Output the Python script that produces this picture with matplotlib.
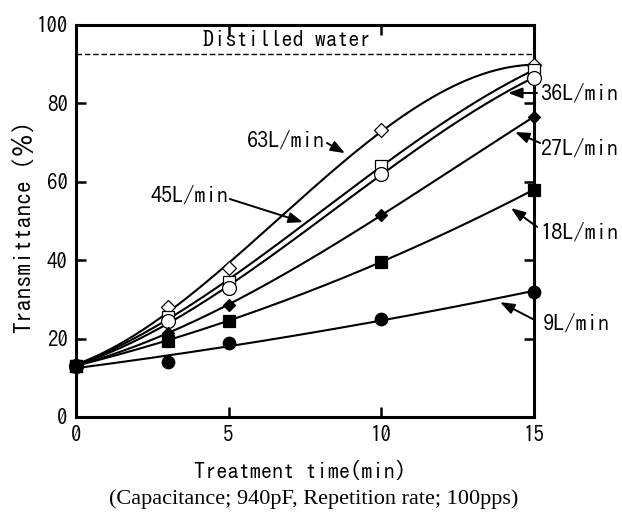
import matplotlib
matplotlib.use('Agg')
import matplotlib.pyplot as plt
import numpy as np

# data
t = np.array([0, 3, 5, 10, 15])
flow_labels = ['63L/min', '45L/min', '36L/min', '27L/min', '18L/min', '9L/min']
tr_63 = [13.1, 28.0, 37.9, 73.2, 89.8]
tr_45 = [13.1, 25.5, 34.5, 64.1, 88.5]
tr_36 = [13.1, 24.5, 32.8, 62.0, 86.6]
tr_27 = [13.1, 21.5, 28.6, 51.5, 76.6]
tr_18 = [13.1, 19.5, 24.6, 39.6, 58.0]
tr_9 = [13.1, 14.1, 18.8, 25.0, 32.0]
distilled = 92.6

series = [tr_63, tr_45, tr_36, tr_27, tr_18, tr_9]
# (marker, size, facecolor)
styles = [('D', 7, 'white'), ('s', 9, 'white'), ('o', 10, 'white'),
          ('D', 6, 'black'), ('s', 9, 'black'), ('o', 9, 'black')]
fit_deg = [3, 3, 3, 3, 2, 2]

plt.rcParams['font.family'] = ['IPAGothic', 'DejaVu Sans']

fig = plt.figure(figsize=(6.22, 5.15), dpi=100)
ax = fig.add_axes([0.1222, 0.1903, 0.7363, 0.7612])

tt = np.linspace(0, 15, 200)
for vals, (m, ms, fc), deg in zip(series, styles, fit_deg):
    p = np.polyfit(t, vals, deg)
    ax.plot(tt, np.polyval(p, tt), color='black', lw=1.5, zorder=2)
    ax.plot(t, vals, ls='none', marker=m, ms=ms, mfc=fc, mec='black',
            mew=0.9, zorder=3, clip_on=False)

ax.axhline(distilled, color='black', ls=(0, (4, 2)), lw=1.0)
ax.text(6.9, 96.2, 'Distilled water', ha='center', va='center', fontsize=16)

arrow = dict(arrowstyle='-|>, head_length=0.85, head_width=0.32', lw=1.4,
             color='black', shrinkA=0, shrinkB=0)
# label, text anchor, ha, arrow tail, arrow tip
notes = [
    ('63L/min', (8.16, 70.7), 'right', (8.22, 69.9), (8.81, 67.3)),
    ('45L/min', (4.98, 56.6), 'right', (5.04, 55.6), (7.43, 49.7)),
    ('36L/min', (15.2, 82.65), 'left', (15.10, 82.65), (14.15, 82.65)),
    ('27L/min', (15.2, 68.6), 'left', (15.20, 69.9), (14.38, 72.7)),
    ('18L/min', (15.2, 47.2), 'left', (15.10, 48.5), (14.25, 53.3)),
    ('9L/min', (15.3, 24.0), 'left', (15.03, 24.7), (13.89, 29.3)),
]
for lab, xy_txt, ha, tail, tip in notes:
    ax.text(*xy_txt, lab, ha=ha, va='center', fontsize=16, clip_on=False)
    ax.annotate('', xy=tip, xytext=tail, arrowprops=arrow,
                annotation_clip=False)

ax.set_xlim(0, 15)
ax.set_ylim(0, 100)
ax.set_xticks([0, 5, 10, 15])
ax.set_yticks([0, 20, 40, 60, 80, 100])
ax.tick_params(direction='in', length=7, width=1.8, labelsize=15,
               top=True, right=True, pad=6)
for s in ax.spines.values():
    s.set_linewidth(2.2)

fig.text(0.035, 0.571, 'Transmittance（％）', rotation=90, ha='center',
         va='center', fontsize=17)
fig.text(0.482, 0.0854, 'Treatment time(min)', ha='center', va='center',
         fontsize=16)
fig.text(0.505, 0.031, '(Capacitance; 940pF, Repetition rate; 100pps)',
         ha='center', va='center', fontsize=16, family='Liberation Serif')

fig.savefig('out.png', dpi=100)
